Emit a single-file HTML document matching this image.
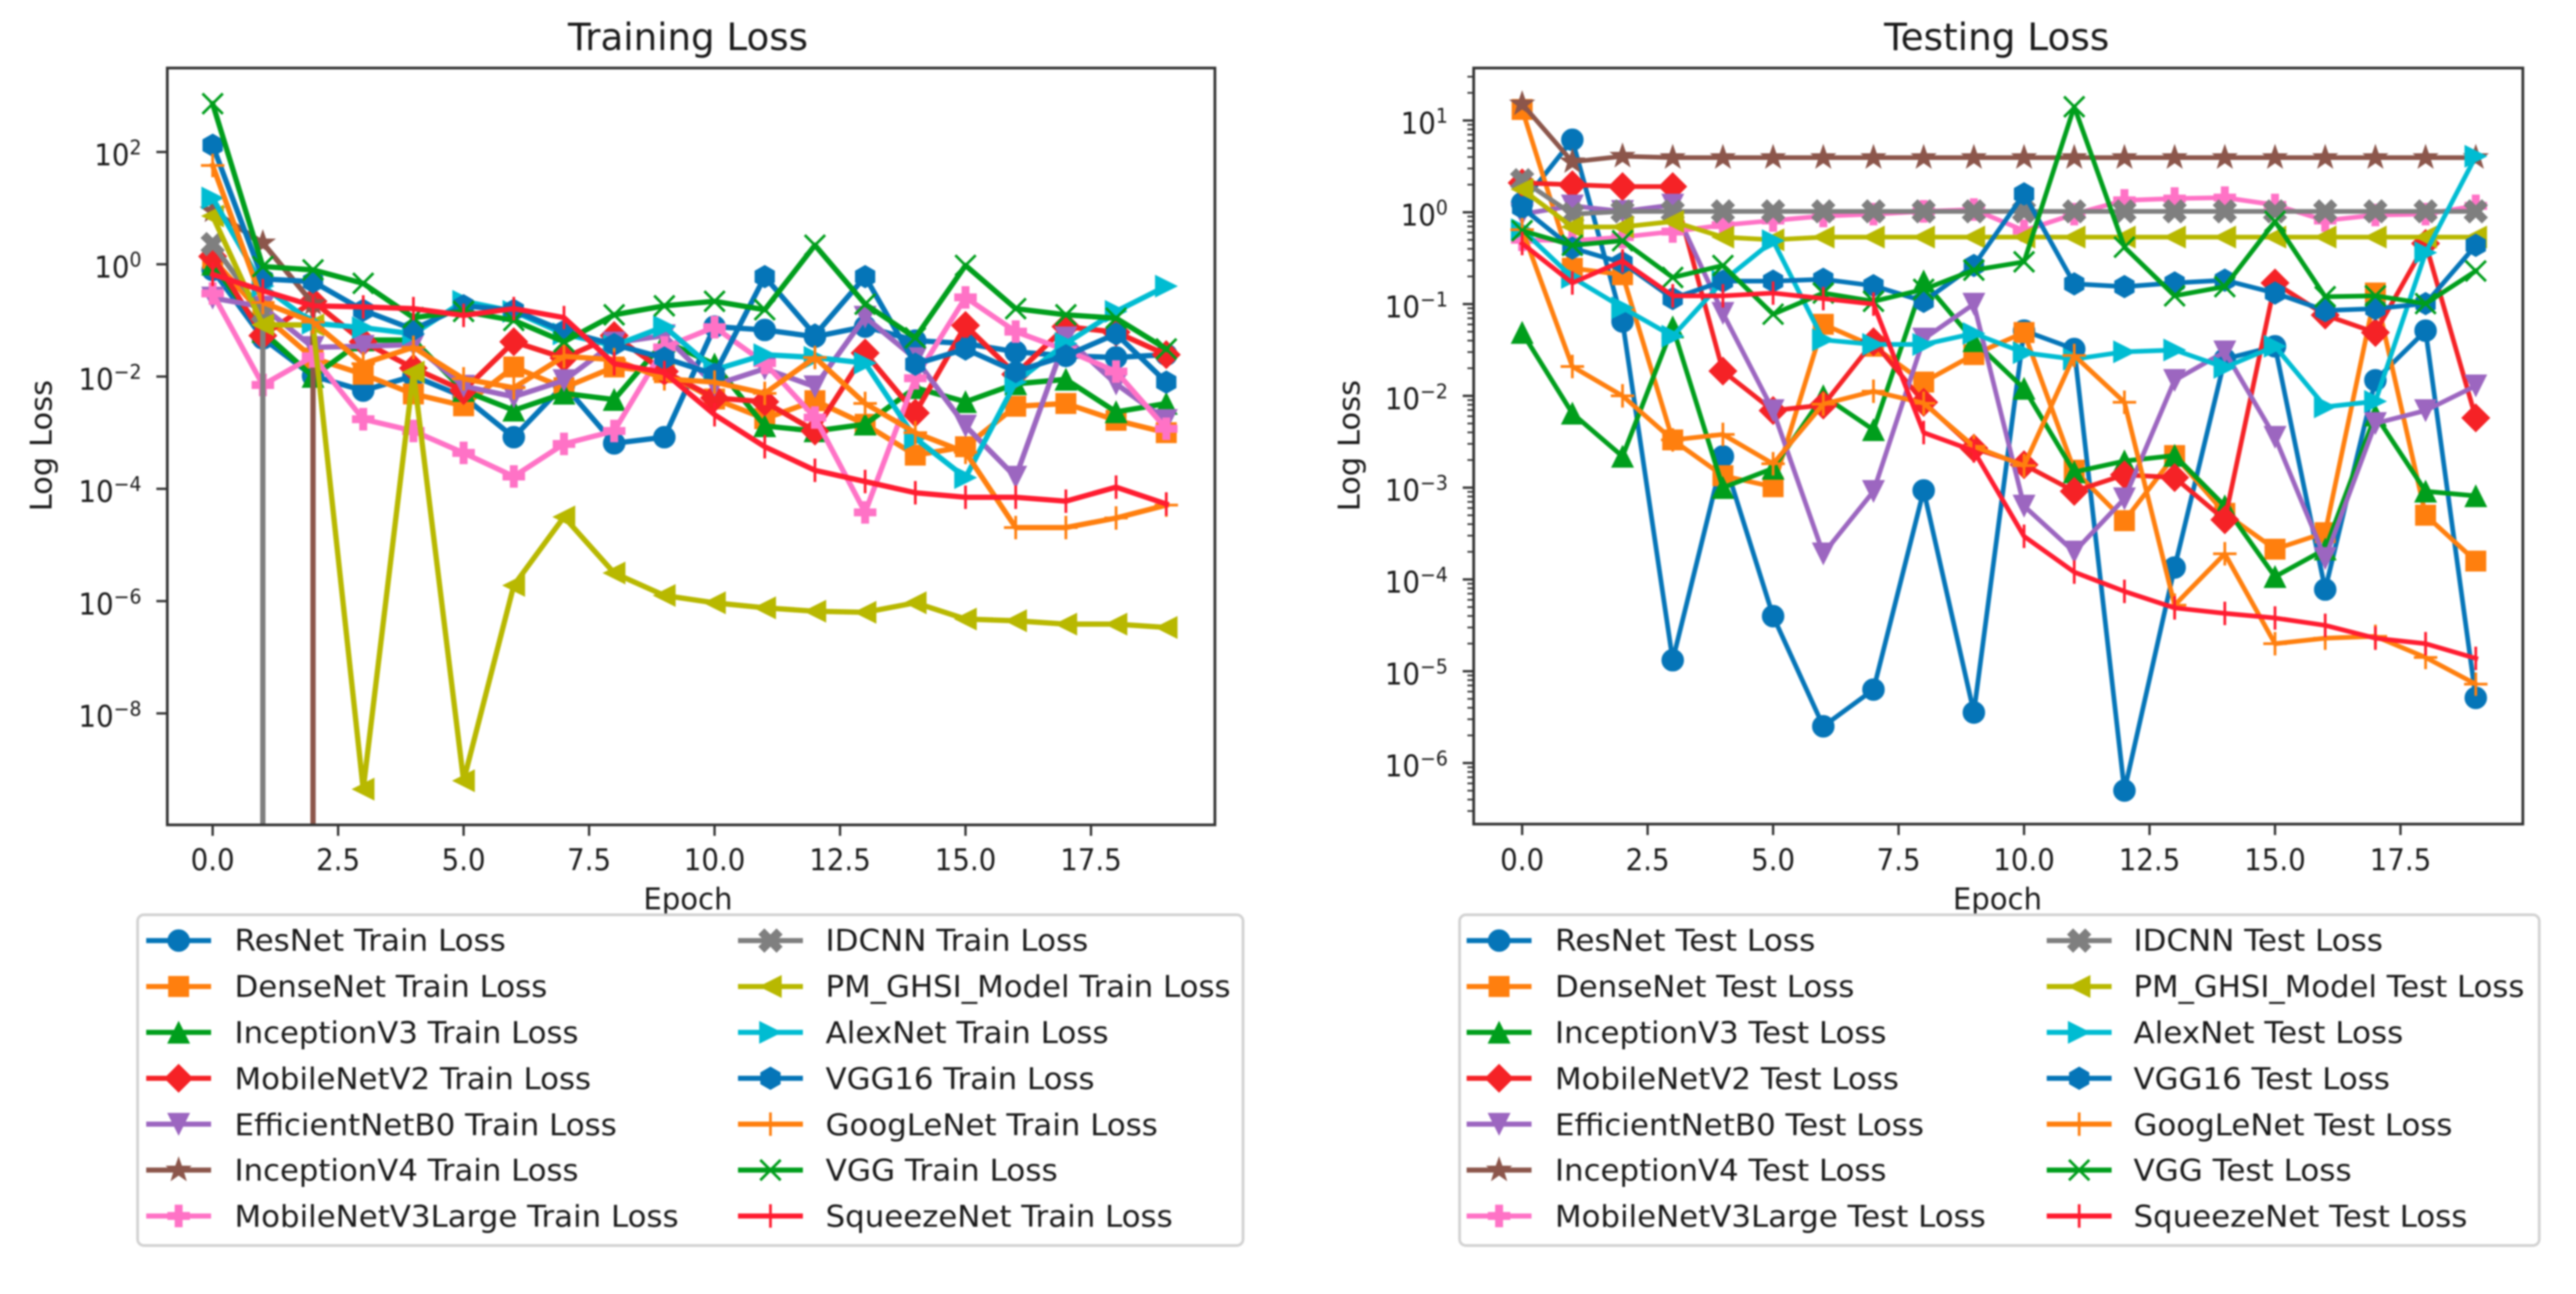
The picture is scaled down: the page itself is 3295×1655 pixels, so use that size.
<!DOCTYPE html>
<html lang="en">
<head>
<meta charset="utf-8">
<title>Training and Testing Loss</title>
<style>
html,body{margin:0;padding:0;background:#fff;width:3295px;height:1655px;overflow:hidden}
svg{display:block;filter:blur(1px)}
text{font-family:"DejaVu Sans","Liberation Sans",sans-serif;fill:#1a1a1a}
</style>
</head>
<body>
<svg id="figure" xmlns="http://www.w3.org/2000/svg" width="3295" height="1655" viewBox="0 0 3295 1655">
  <rect x="0" y="0" width="3295" height="1655" fill="#fff"/>
  <defs>
    <clipPath id="clip-train"><rect x="214" y="87" width="1340" height="968"/></clipPath>
    <clipPath id="clip-test"><rect x="1885" y="87" width="1342" height="967"/></clipPath>
  </defs>

  <text x="880" y="64" font-size="48" text-anchor="middle" textLength="307" lengthAdjust="spacingAndGlyphs">Training Loss</text>
  <text x="2554" y="64" font-size="48" text-anchor="middle" textLength="288" lengthAdjust="spacingAndGlyphs">Testing Loss</text>

  <g id="train-axes"></g>
  <g id="test-axes"></g>

  <text transform="translate(66,570) rotate(-90)" font-size="38" text-anchor="middle" textLength="168" lengthAdjust="spacingAndGlyphs">Log Loss</text>
  <text transform="translate(1739,570) rotate(-90)" font-size="38" text-anchor="middle" textLength="168" lengthAdjust="spacingAndGlyphs">Log Loss</text>
  <text x="880" y="1163" font-size="38" text-anchor="middle" textLength="114" lengthAdjust="spacingAndGlyphs">Epoch</text>
  <text x="2555" y="1163" font-size="38" text-anchor="middle" textLength="114" lengthAdjust="spacingAndGlyphs">Epoch</text>

  <g>
    <rect x="176" y="1170" width="1414" height="423" rx="8" fill="#fff" fill-opacity="0.8" stroke="#d2d2d2" stroke-width="3.5"/>
    <g id="train-legend-handles"></g>
    <g font-size="38">
      <text x="300" y="1216" textLength="347" lengthAdjust="spacingAndGlyphs">ResNet Train Loss</text>
      <text x="300" y="1275" textLength="400" lengthAdjust="spacingAndGlyphs">DenseNet Train Loss</text>
      <text x="300" y="1334" textLength="440" lengthAdjust="spacingAndGlyphs">InceptionV3 Train Loss</text>
      <text x="300" y="1393" textLength="456" lengthAdjust="spacingAndGlyphs">MobileNetV2 Train Loss</text>
      <text x="300" y="1452" textLength="489" lengthAdjust="spacingAndGlyphs">EfficientNetB0 Train Loss</text>
      <text x="300" y="1510" textLength="440" lengthAdjust="spacingAndGlyphs">InceptionV4 Train Loss</text>
      <text x="300" y="1569" textLength="568" lengthAdjust="spacingAndGlyphs">MobileNetV3Large Train Loss</text>
      <text x="1056" y="1216" textLength="336" lengthAdjust="spacingAndGlyphs">IDCNN Train Loss</text>
      <text x="1056" y="1275" textLength="518" lengthAdjust="spacingAndGlyphs">PM_GHSI_Model Train Loss</text>
      <text x="1056" y="1334" textLength="362" lengthAdjust="spacingAndGlyphs">AlexNet Train Loss</text>
      <text x="1056" y="1393" textLength="344" lengthAdjust="spacingAndGlyphs">VGG16 Train Loss</text>
      <text x="1056" y="1452" textLength="425" lengthAdjust="spacingAndGlyphs">GoogLeNet Train Loss</text>
      <text x="1056" y="1510" textLength="297" lengthAdjust="spacingAndGlyphs">VGG Train Loss</text>
      <text x="1056" y="1569" textLength="444" lengthAdjust="spacingAndGlyphs">SqueezeNet Train Loss</text>
    </g>
  </g>

  <g>
    <rect x="1867" y="1170" width="1381" height="423" rx="8" fill="#fff" fill-opacity="0.8" stroke="#d2d2d2" stroke-width="3.5"/>
    <g id="test-legend-handles"></g>
    <g font-size="38">
      <text x="1989" y="1216" textLength="333" lengthAdjust="spacingAndGlyphs">ResNet Test Loss</text>
      <text x="1989" y="1275" textLength="383" lengthAdjust="spacingAndGlyphs">DenseNet Test Loss</text>
      <text x="1989" y="1334" textLength="424" lengthAdjust="spacingAndGlyphs">InceptionV3 Test Loss</text>
      <text x="1989" y="1393" textLength="440" lengthAdjust="spacingAndGlyphs">MobileNetV2 Test Loss</text>
      <text x="1989" y="1452" textLength="472" lengthAdjust="spacingAndGlyphs">EfficientNetB0 Test Loss</text>
      <text x="1989" y="1510" textLength="424" lengthAdjust="spacingAndGlyphs">InceptionV4 Test Loss</text>
      <text x="1989" y="1569" textLength="551" lengthAdjust="spacingAndGlyphs">MobileNetV3Large Test Loss</text>
      <text x="2729" y="1216" textLength="319" lengthAdjust="spacingAndGlyphs">IDCNN Test Loss</text>
      <text x="2729" y="1275" textLength="500" lengthAdjust="spacingAndGlyphs">PM_GHSI_Model Test Loss</text>
      <text x="2729" y="1334" textLength="345" lengthAdjust="spacingAndGlyphs">AlexNet Test Loss</text>
      <text x="2729" y="1393" textLength="328" lengthAdjust="spacingAndGlyphs">VGG16 Test Loss</text>
      <text x="2729" y="1452" textLength="408" lengthAdjust="spacingAndGlyphs">GoogLeNet Test Loss</text>
      <text x="2729" y="1510" textLength="279" lengthAdjust="spacingAndGlyphs">VGG Test Loss</text>
      <text x="2729" y="1569" textLength="427" lengthAdjust="spacingAndGlyphs">SqueezeNet Test Loss</text>
    </g>
  </g>
</svg>

<script>
// Values are log10(loss), one entry per epoch; null = loss collapsed to zero.
const epochs = [0,1,2,3,4,5,6,7,8,9,10,11,12,13,14,15,16,17,18,19];
const xTickValues = [0,2.5,5,7.5,10,12.5,15,17.5];
const xTickLabels = ['0.0','2.5','5.0','7.5','10.0','12.5','15.0','17.5'];
const trainYTicks = [2,0,-2,-4,-6,-8];
const testYTicks = [1,0,-1,-2,-3,-4,-5,-6];
const modelNames = ['resnet','densenet','inceptionv3','mobilenetv2','efficientnetb0','inceptionv4','mobilenetv3large','idcnn','pm-ghsi','alexnet','vgg16','googlenet','vgg','squeezenet'];

const trainResNet = [-0.10,-1.32,-1.99,-2.25,-1.99,-2.36,-3.08,-2.15,-3.19,-3.08,-1.11,-1.17,-1.29,-1.11,-1.36,-1.41,-1.56,-1.63,-1.66,-1.61];
const trainDenseNet = [0.10,-0.90,-1.67,-1.96,-2.31,-2.52,-1.83,-2.20,-1.83,-1.93,-2.40,-2.75,-2.43,-2.85,-3.40,-3.25,-2.53,-2.48,-2.78,-3.00];
const trainInceptionV3 = [0.00,-1.20,-2.00,-1.35,-1.35,-2.25,-2.60,-2.30,-2.41,-1.37,-1.78,-2.88,-2.97,-2.85,-2.20,-2.45,-2.13,-2.05,-2.63,-2.48];
const trainMobileNetV2 = [0.14,-1.27,-0.66,-1.38,-1.85,-2.25,-1.38,-1.67,-1.27,-1.91,-2.38,-2.45,-2.97,-1.58,-2.65,-1.09,-1.96,-1.11,-1.21,-1.61];
const trainEfficientNetB0 = [-0.60,-0.76,-1.48,-1.46,-1.43,-2.17,-2.36,-2.07,-1.40,-1.27,-2.15,-1.86,-2.18,-0.94,-1.68,-2.88,-3.79,-1.31,-2.13,-2.78];
const trainInceptionV4 = [0.95,0.38,-0.70,null,null,null,null,null,null,null,null,null,null,null,null,null,null,null,null,null];
const trainMobileNetV3Large = [-0.52,-2.15,-1.64,-2.76,-2.97,-3.36,-3.78,-3.20,-2.97,-1.48,-1.12,-1.76,-2.73,-4.42,-2.03,-0.59,-1.20,-1.53,-1.91,-2.93];
const trainIDCNN = [0.36,-0.87,null,null,null,null,null,null,null,null,null,null,null,null,null,null,null,null,null,null];
const trainPMGHSI = [0.86,-1.08,-1.08,-9.35,-1.92,-9.20,-5.72,-4.50,-5.50,-5.90,-6.03,-6.12,-6.18,-6.20,-6.03,-6.32,-6.35,-6.41,-6.41,-6.47];
const trainAlexNet = [1.18,-0.39,-1.05,-1.13,-1.24,-0.66,-0.84,-1.24,-1.45,-1.11,-1.88,-1.61,-1.66,-1.76,-3.10,-3.80,-2.10,-1.41,-0.84,-0.39];
const trainVGG16 = [2.12,-0.26,-0.31,-0.82,-1.16,-0.74,-0.82,-1.19,-1.43,-1.67,-1.96,-0.22,-1.26,-0.22,-1.78,-1.51,-1.91,-1.63,-1.24,-2.10];
const trainGoogLeNet = [1.76,-0.68,-1.03,-1.77,-1.48,-2.04,-2.20,-1.64,-1.70,-2.04,-2.10,-2.30,-1.66,-2.48,-3.00,-3.35,-4.69,-4.69,-4.52,-4.29];
const trainVGG = [2.86,-0.04,-0.10,-0.34,-0.95,-0.84,-1.00,-1.38,-0.90,-0.74,-0.66,-0.81,0.34,-0.71,-1.31,-0.02,-0.79,-0.90,-0.96,-1.51];
const trainSqueezeNet = [-0.18,-0.47,-0.74,-0.76,-0.79,-0.91,-0.79,-0.95,-1.77,-1.93,-2.68,-3.25,-3.67,-3.87,-4.07,-4.15,-4.15,-4.22,-3.97,-4.27];

const testResNet = [0.10,0.79,-1.19,-4.88,-2.66,-4.40,-5.60,-5.20,-3.03,-5.45,-1.29,-1.49,-6.30,-3.87,-1.60,-1.46,-4.11,-1.83,-1.29,-5.29];
const testDenseNet = [1.12,-0.61,-0.68,-2.48,-2.87,-2.99,-1.22,-1.46,-1.85,-1.55,-1.31,-2.81,-3.36,-2.65,-3.28,-3.67,-3.49,-0.88,-3.30,-3.80];
const testInceptionV3 = [-1.31,-2.19,-2.66,-1.25,-3.00,-2.79,-2.00,-2.37,-0.75,-1.40,-1.92,-2.83,-2.71,-2.65,-3.20,-3.97,-3.67,-2.21,-3.04,-3.09];
const testMobileNetV2 = [0.32,0.30,0.28,0.28,-1.73,-2.16,-2.10,-1.41,-2.07,-2.57,-2.75,-3.04,-2.86,-2.89,-3.35,-0.77,-1.12,-1.31,-0.34,-2.24];
const testEfficientNetB0 = [-0.02,0.07,0.01,0.08,-1.10,-2.16,-3.72,-3.04,-1.38,-1.00,-3.20,-3.70,-3.12,-1.83,-1.52,-2.45,-3.77,-2.30,-2.16,-1.89];
const testInceptionV4 = [1.18,0.55,0.61,0.595,0.595,0.595,0.595,0.595,0.595,0.595,0.595,0.595,0.595,0.595,0.595,0.595,0.595,0.595,0.595,0.595];
const testMobileNetV3Large = [-0.30,-0.31,-0.27,-0.21,-0.14,-0.09,-0.04,-0.02,0.01,0.03,-0.20,-0.02,0.13,0.15,0.16,0.08,-0.09,-0.03,-0.02,0.07];
const testIDCNN = [0.35,-0.02,0.01,0.01,0.01,0.01,0.01,0.01,0.01,0.01,0.01,0.01,0.01,0.01,0.01,0.01,0.01,0.01,0.01,0.01];
const testPMGHSI = [0.25,-0.16,-0.16,-0.10,-0.27,-0.30,-0.27,-0.27,-0.27,-0.27,-0.27,-0.27,-0.27,-0.27,-0.27,-0.27,-0.27,-0.27,-0.27,-0.27];
const testAlexNet = [-0.19,-0.71,-1.04,-1.35,-0.75,-0.31,-1.39,-1.44,-1.44,-1.32,-1.53,-1.60,-1.52,-1.50,-1.69,-1.46,-2.12,-2.06,-0.44,0.61];
const testVGG16 = [0.05,-0.39,-0.55,-0.94,-0.75,-0.75,-0.73,-0.80,-0.97,-0.58,0.20,-0.78,-0.81,-0.77,-0.74,-0.88,-1.07,-1.05,-0.995,-0.36];
const testGoogLeNet = [-0.19,-1.68,-2.00,-2.48,-2.42,-2.74,-2.09,-1.95,-2.08,-2.55,-2.76,-1.56,-2.07,-4.28,-3.72,-4.70,-4.64,-4.62,-4.85,-5.14];
const testVGG = [-0.20,-0.36,-0.31,-0.71,-0.58,-1.11,-0.88,-0.97,-0.84,-0.63,-0.54,1.15,-0.38,-0.91,-0.81,-0.10,-0.92,-0.91,-0.995,-0.64];
const testSqueezeNet = [-0.34,-0.77,-0.53,-0.91,-0.91,-0.88,-0.94,-1.00,-2.40,-2.60,-3.53,-3.92,-4.13,-4.31,-4.37,-4.42,-4.50,-4.64,-4.70,-4.86];

const trainSeries = [trainResNet,trainDenseNet,trainInceptionV3,trainMobileNetV2,trainEfficientNetB0,trainInceptionV4,trainMobileNetV3Large,trainIDCNN,trainPMGHSI,trainAlexNet,trainVGG16,trainGoogLeNet,trainVGG,trainSqueezeNet];
const testSeries = [testResNet,testDenseNet,testInceptionV3,testMobileNetV2,testEfficientNetB0,testInceptionV4,testMobileNetV3Large,testIDCNN,testPMGHSI,testAlexNet,testVGG16,testGoogLeNet,testVGG,testSqueezeNet];

// Styling, kept apart from the data.
const seriesColors = ['#0575b8','#ff7f0e','#009e1c','#f52226','#9c66c0','#8c564b','#ff72c6','#7f7f7f','#b8b800','#00bcd2','#0575b8','#ff7f0e','#009e1c','#ff1c30'];
const seriesMarkers = ['o','s','^','D','v','*','P','X','<','>','h','+','x','|'];
const markerSizes = {o:28,s:26,'^':28,D:36,v:28,'*':30,P:28,X:30,'<':28,'>':28,h:29,'+':30,x:26,'|':30};
const strokeMarkers = ['+','x','|'];

const SVG_NS = 'http://www.w3.org/2000/svg';
function svgEl(tag, attrs, parent){
  const el = document.createElementNS(SVG_NS, tag);
  for (const k in attrs) el.setAttribute(k, attrs[k]);
  if (parent) parent.appendChild(el);
  return el;
}
function polygon(points){
  return 'M' + points.map(p => p[0].toFixed(2) + ',' + p[1].toFixed(2)).join('L') + 'Z';
}
function markerPath(kind){
  const s = markerSizes[kind], h = s / 2, t = s / 6;
  switch (kind) {
    case 'o': return 'M' + (-h) + ',0A' + h + ',' + h + ' 0 1 0 ' + h + ',0A' + h + ',' + h + ' 0 1 0 ' + (-h) + ',0Z';
    case 's': return polygon([[-h,-h],[h,-h],[h,h],[-h,h]]);
    case '^': return polygon([[0,-h],[h,h],[-h,h]]);
    case 'v': return polygon([[0,h],[h,-h],[-h,-h]]);
    case '<': return polygon([[-h,0],[h,-h],[h,h]]);
    case '>': return polygon([[h,0],[-h,-h],[-h,h]]);
    case 'D': return polygon([[0,-h],[h,0],[0,h],[-h,0]]);
    case 'P': return polygon([[-t,-h],[t,-h],[t,-t],[h,-t],[h,t],[t,t],[t,h],[-t,h],[-t,t],[-h,t],[-h,-t],[-t,-t]]);
    case 'X': {
      const c = h, d = h * 0.48;
      return polygon([[-c,-c+d],[-c+d,-c],[0,-d],[c-d,-c],[c,-c+d],[d,0],[c,c-d],[c-d,c],[0,d],[-c+d,c],[-c,c-d],[-d,0]]);
    }
    case '*': {
      const pts = [];
      for (let i = 0; i < 10; i++) {
        const r = (i % 2 === 0) ? h * 1.1 : h * 0.44;
        const a = -Math.PI / 2 + i * Math.PI / 5;
        pts.push([r * Math.cos(a), r * Math.sin(a)]);
      }
      return polygon(pts);
    }
    case 'h': {
      const pts = [];
      for (let i = 0; i < 6; i++) {
        const a = -Math.PI / 2 + i * Math.PI / 3;
        pts.push([h * Math.cos(a), h * Math.sin(a)]);
      }
      return polygon(pts);
    }
    case '+': return 'M' + (-h) + ',0H' + h + 'M0,' + (-h) + 'V' + h;
    case 'x': return 'M' + (-h) + ',' + (-h) + 'L' + h + ',' + h + 'M' + (-h) + ',' + h + 'L' + h + ',' + (-h);
    case '|': return 'M0,' + (-h) + 'V' + h;
  }
}
function drawMarker(parent, kind, color, x, y, name){
  const stroked = strokeMarkers.includes(kind);
  const el = svgEl('path', {
    d: markerPath(kind),
    transform: 'translate(' + x.toFixed(2) + ',' + y.toFixed(2) + ')',
    fill: stroked ? 'none' : color,
    stroke: color,
    'stroke-width': stroked ? 3.5 : 0.8
  }, parent);
  
  
}

const SPINE = '#333333';
function buildAxes(cfg){
  const group = document.getElementById(cfg.id);
  const xScale = v => cfg.x0 + cfg.xUnit * v;
  const yScale = v => cfg.y0 - cfg.yUnit * v;
  const below = cfg.bottom + 40;

  // Series, clipped to the plot area
  const plot = svgEl('g', {'clip-path': 'url(#' + cfg.clip + ')'}, group);
  
  
  cfg.series.forEach((values, s) => {
    const color = seriesColors[s], kind = seriesMarkers[s];
    const g = svgEl('g', {}, plot);
    
    
    // A zero loss has no log: the line falls straight down from the last real point.
    const pts = [];
    epochs.forEach((e, i) => {
      const prev = i > 0 ? values[i - 1] : 0;
      if (values[i] === null) {
        if (prev !== null) pts.push(xScale(epochs[i - 1]).toFixed(2) + ',' + below);
        return;
      }
      if (prev === null) pts.push(xScale(e).toFixed(2) + ',' + below);
      pts.push(xScale(e).toFixed(2) + ',' + yScale(values[i]).toFixed(2));
    });
    const line = svgEl('polyline', {
      points: pts.join(' '), fill: 'none', stroke: color,
      'stroke-width': cfg.lineWidth, 'stroke-linejoin': 'round', 'stroke-linecap': 'square'
    }, g);
    
    
    epochs.forEach((e, i) => {
      if (values[i] === null) return;
      drawMarker(g, kind, color, xScale(e), yScale(values[i]), modelNames[s] + '-' + cfg.prefix + '-point');
    });
  });

  // Frame
  const frame = svgEl('rect', {x: cfg.left, y: cfg.top, width: cfg.right - cfg.left, height: cfg.bottom - cfg.top, fill: 'none', stroke: SPINE, 'stroke-width': 3.5}, group);
  
  

  // X ticks
  xTickValues.forEach((v, i) => {
    const x = xScale(v);
    const tick = svgEl('line', {x1: x, x2: x, y1: cfg.bottom, y2: cfg.bottom + 14, stroke: SPINE, 'stroke-width': 3}, group);
    
    
    const label = svgEl('text', {transform: 'translate(' + x + ',1113) scale(0.93,1)', 'font-size': 38, 'text-anchor': 'middle'}, group);
    label.textContent = xTickLabels[i];
    
    
  });

  // Y ticks
  cfg.yTicks.forEach(v => {
    const y = yScale(v);
    const tick = svgEl('line', {x1: cfg.left - 14, x2: cfg.left, y1: y, y2: y, stroke: SPINE, 'stroke-width': 3}, group);
    
    
    const label = svgEl('text', {transform: 'translate(' + (cfg.left - 33) + ',' + (y + 17) + ') scale(0.93,1)', 'font-size': 38, 'text-anchor': 'end'}, group);
    
    
    const base = svgEl('tspan', {}, label);
    base.textContent = '10';
    const exp = svgEl('tspan', {'font-size': 26, dy: -14}, label);
    exp.textContent = String(v).replace('-', '\u2212');
  });

  // Minor ticks (only where the decade spacing leaves room)
  if (cfg.minor) {
    for (let d = -7; d <= 1; d++) {
      for (let sub = 2; sub <= 9; sub++) {
        const y = yScale(d + Math.log10(sub));
        if (y < cfg.top || y > cfg.bottom) continue;
        const tick = svgEl('line', {x1: cfg.left - 8, x2: cfg.left, y1: y, y2: y, stroke: SPINE, 'stroke-width': 2.2}, group);
        
        
      }
    }
  }
}

buildAxes({id:'train-axes', prefix:'train', clip:'clip-train', series:trainSeries, yTicks:trainYTicks, minor:false,
  left:214, right:1554, top:87, bottom:1055, x0:272, xUnit:64.2, y0:338, yUnit:71.8, lineWidth:6.8});
buildAxes({id:'test-axes', prefix:'test', clip:'clip-test', series:testSeries, yTicks:testYTicks, minor:true,
  left:1885, right:3227, top:87, bottom:1054, x0:1947, xUnit:64.2, y0:271.5, yUnit:117.4, lineWidth:6});

function buildLegend(id, prefix, col1, col2){
  const parent = document.getElementById(id);
  seriesColors.forEach((color, s) => {
    const col = s < 7 ? col1 : col2;
    const row = s % 7;
    const y = 1203 + 58.7 * row;
    const g = svgEl('g', {}, parent);
    
    
    svgEl('line', {x1: col, x2: col + 83, y1: y, y2: y, stroke: color, 'stroke-width': 6.5}, g);
    drawMarker(g, seriesMarkers[s], color, col + 41.5, y, modelNames[s] + '-' + prefix + '-legend-marker');
  });
}
buildLegend('train-legend-handles', 'train', 187, 944);
buildLegend('test-legend-handles', 'test', 1876, 2618);
</script>
</body>
</html>
